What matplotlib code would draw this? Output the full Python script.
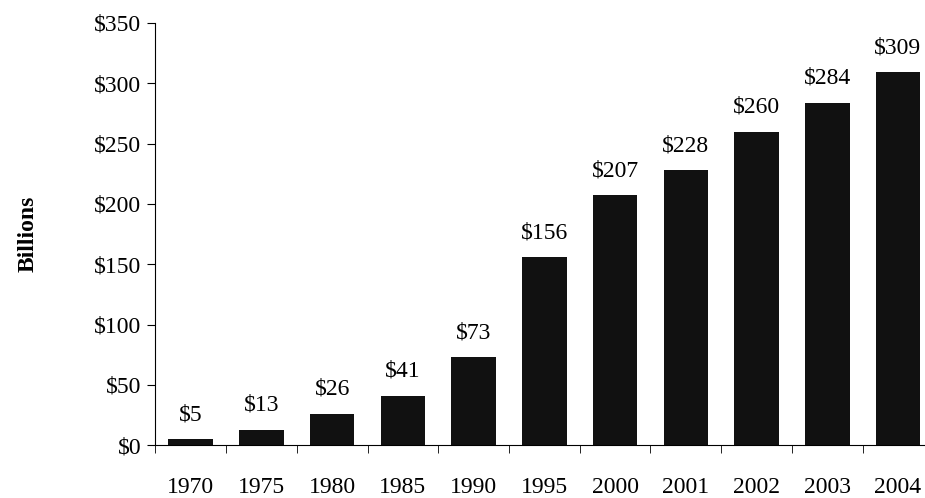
import matplotlib
matplotlib.use("Agg")
import matplotlib.pyplot as plt
import numpy as np

# Medicaid spending, billions of dollars
years = ["1970", "1975", "1980", "1985", "1990", "1995", "2000", "2001", "2002", "2003", "2004"]
spending = [5, 13, 26, 41, 73, 156, 207, 228, 260, 284, 309]
y_ticks = [0, 50, 100, 150, 200, 250, 300, 350]

plt.rcParams['font.family'] = ['Liberation Serif', 'DejaVu Serif']

fig = plt.figure(figsize=(9.25, 4.98), dpi=100)
ax = fig.add_axes([0.168, 0.106, 0.841, 0.848])

x = np.arange(len(years))
ax.bar(x, spending, width=0.63, color="#111111")

for xi, v in zip(x, spending):
    ax.annotate("$%d" % v, (xi, v), xytext=(0, 10), textcoords="offset points",
                ha="center", va="bottom", fontsize=17)

ax.set_xlim(-0.5, len(years) - 0.5)
ax.set_ylim(0, 350)
ax.set_yticks(y_ticks)
ax.set_yticklabels(["$%d" % t for t in y_ticks], fontsize=17)

# year labels centred under bars, tick marks on the boundaries
ax.set_xticks(x)
ax.set_xticklabels(years, fontsize=17)
ax.tick_params(axis="x", which="major", length=0, pad=23)
ax.set_xticks(np.arange(len(years)) - 0.5, minor=True)
ax.tick_params(axis="x", which="minor", length=6, direction="out")
ax.tick_params(axis="y", length=6, direction="out", pad=4)

ax.spines["top"].set_visible(False)
ax.spines["right"].set_visible(False)
ax.set_ylabel("Billions", fontsize=17, fontweight="bold")
ax.yaxis.set_label_coords(-0.15, 0.5)

fig.savefig("out.png", dpi=100)
